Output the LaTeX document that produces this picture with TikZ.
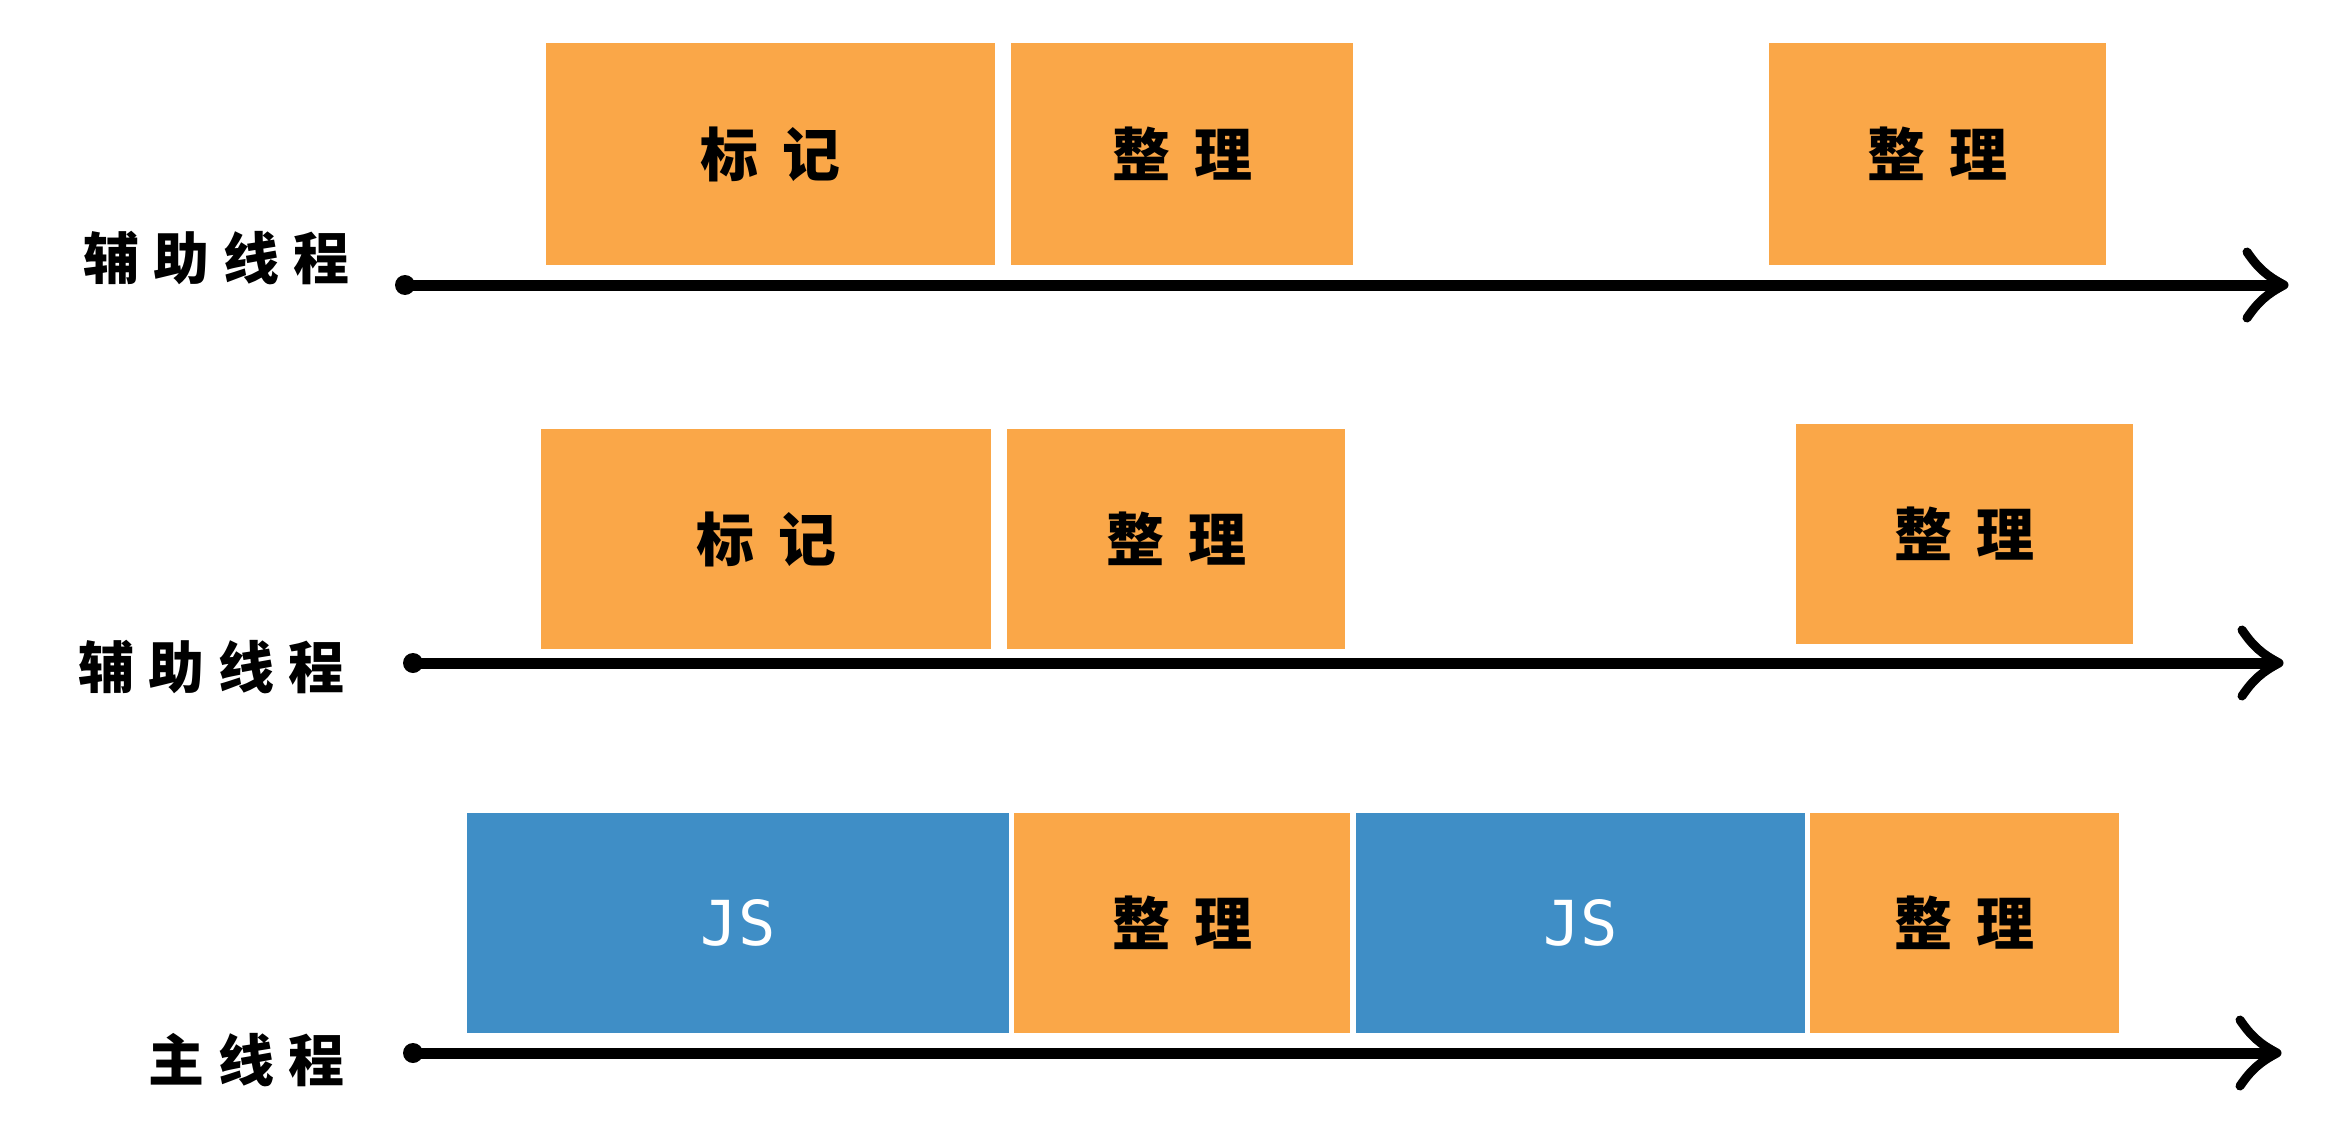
\documentclass[tikz,border=0pt]{standalone}
\usepackage{fontspec}
\newfontfamily\cjk{Noto Sans CJK SC}
\newfontfamily\jsfont{DejaVu Sans Mono}
\usetikzlibrary{calc}
\definecolor{oboxc}{HTML}{FAA748}
\definecolor{bboxc}{HTML}{3F8EC6}
\newcommand\gapA{\hspace{24pt}}
\newcommand\gapB{\hspace{14pt}}
\newcommand\low[1]{\raisebox{-7pt}{#1}}
\tikzset{
  task/.style={anchor=north west, inner sep=0pt, text=black,
    font=\cjk\bfseries\fontsize{58}{58}\selectfont},
  otask/.style={task, fill=oboxc},
  btask/.style={task, fill=bboxc, text=white,
    font=\jsfont\fontsize{62}{62}\selectfont},
  thread/.style={anchor=east, inner sep=0pt,
    font=\cjk\bfseries\fontsize{56}{56}\selectfont},
  axisline/.style={line width=11pt, line cap=round},
  axishead/.style={line width=9pt, line cap=round, line join=round},
}
\begin{document}
\begin{tikzpicture}[x=1pt,y=-1pt]
\fill[white] (0,0) rectangle (2336,1134);
\useasboundingbox (0,0) rectangle (2336,1134);

% row 1
\node[otask, minimum width=449pt, minimum height=222pt] (m1) at (546,43) {\low{标\gapA 记}};
\node[otask, minimum width=342pt, minimum height=222pt] (z1) at (1011,43) {\low{整\gapA 理}};
\node[otask, minimum width=337pt, minimum height=222pt] (z2) at (1769,43) {\low{整\gapA 理}};
\node[thread] (t1) at (350,258) {辅\gapB 助\gapB 线\gapB 程};
\coordinate (s1) at (405,285);
\coordinate (e1) at (2276,285);

% row 2
\node[otask, minimum width=450pt, minimum height=220pt] (m2) at (541,429) {\low{标\gapA 记}};
\node[otask, minimum width=338pt, minimum height=220pt] (z3) at (1007,429) {\low{整\gapA 理}};
\node[otask, minimum width=337pt, minimum height=220pt] (z4) at (1796,424) {\low{整\gapA 理}};
\node[thread] (t2) at (345,667) {辅\gapB 助\gapB 线\gapB 程};
\coordinate (s2) at (413,663);
\coordinate (e2) at (2271,663);

% row 3
\node[btask, minimum width=542pt, minimum height=220pt] (j1) at (467,813) {JS};
\node[otask, minimum width=336pt, minimum height=220pt] (z5) at (1014,813) {\low{整\gapA 理}};
\node[btask, minimum width=449pt, minimum height=220pt] (j2) at (1356,813) {JS};
\node[otask, minimum width=309pt, minimum height=220pt] (z6) at (1810,813) {\low{整\gapA 理}};
\node[thread] (t3) at (345,1060) {主\gapB 线\gapB 程};
\coordinate (s3) at (413,1053);
\coordinate (e3) at (2269,1053);

% axes
\foreach \s/\e in {s1/e1, s2/e2, s3/e3}{
  \draw[axisline] (\s) -- (\e);
  \fill (\s) circle (10pt);
  \fill (\e) circle (8pt);
  \draw[axishead] ($(\e)+(-29,-33)$) to[bend right=14] ($(\e)+(8,0)$)
                  to[bend right=14] ($(\e)+(-29,33)$);
}
\end{tikzpicture}
\end{document}
